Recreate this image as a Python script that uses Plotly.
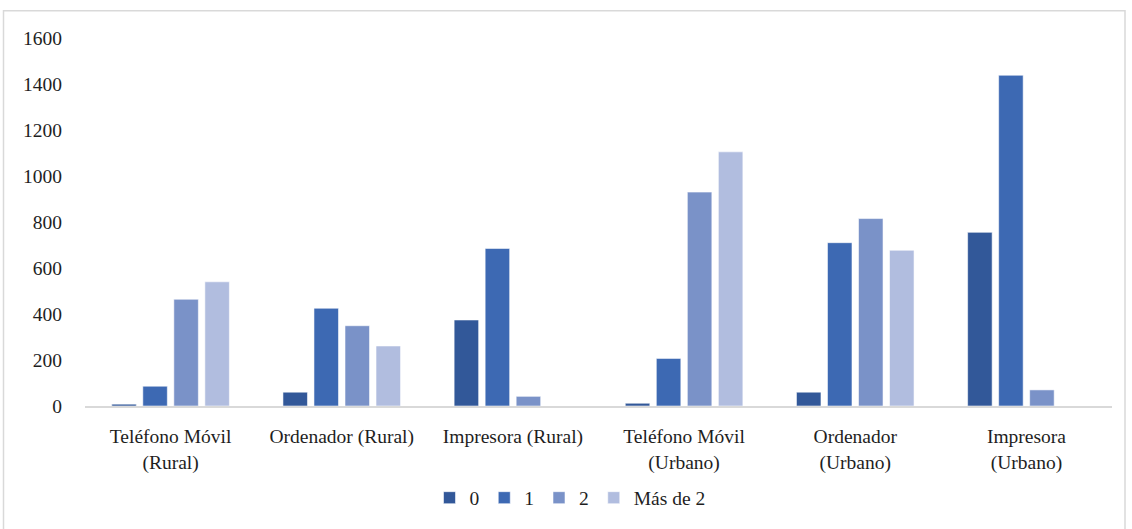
import plotly.graph_objects as go

categories = ["Teléfono Móvil<br>(Rural)", "Ordenador (Rural)", "Impresora (Rural)",
              "Teléfono Móvil<br>(Urbano)", "Ordenador<br>(Urbano)", "Impresora<br>(Urbano)"]
series_names = ["0", "1", "2", "Más de 2"]
vals_0 = [8, 60, 374, 12, 60, 755]
vals_1 = [86, 425, 685, 207, 710, 1438]
vals_2 = [464, 349, 42, 930, 815, 70]
vals_3 = [540, 261, 0, 1105, 677, 0]
colors = ["#325899", "#3d69b3", "#7a92c8", "#b1bddf"]
y_ticks = [0, 200, 400, 600, 800, 1000, 1200, 1400, 1600]

W, H = 1132, 529
L, R, T, B = 85, 20, 38, 119
pw, ph = W - L - R, H - T - B

def px_x(p):
    return (p - L) / pw

def px_y(p):
    return (H - B - p) / ph

font = dict(family="'Liberation Serif', 'Times New Roman', 'DejaVu Serif', serif", size=19.5, color="#1e1e1e")

fig = go.Figure()
for name, vals, c in zip(series_names, [vals_0, vals_1, vals_2, vals_3], colors):
    fig.add_trace(go.Bar(x=categories, y=vals, name=name,
                         marker=dict(color=c, line=dict(color="rgba(255,255,255,0.55)", width=1))))

fig.update_layout(
    width=W, height=H,
    margin=dict(l=L, r=R, t=T, b=B),
    paper_bgcolor="white", plot_bgcolor="white",
    barmode="group", bargap=0.275, bargroupgap=0.21,
    font=font,
    showlegend=True,
    legend=dict(orientation="h", x=px_x(570), xanchor="center", y=px_y(503), yanchor="middle",
                font=font, itemwidth=30, tracegroupgap=0, bgcolor="rgba(0,0,0,0)"),
    xaxis=dict(showline=True, linecolor="#d9d9d9", linewidth=2, showgrid=False, ticks="",
               tickfont=font, ticklabelstandoff=12, fixedrange=True),
    yaxis=dict(range=[0, 1600], tickvals=y_ticks, showgrid=False, zeroline=False, showline=False,
               ticks="", tickfont=font, ticklabelstandoff=22, fixedrange=True),
    shapes=[dict(type="rect", xref="paper", yref="paper",
                 x0=px_x(3.5), x1=px_x(1125), y0=px_y(540), y1=px_y(10.5),
                 line=dict(color="#d9d9d9", width=1.5), fillcolor="rgba(0,0,0,0)", layer="below")],
)

fig.write_html("out.html")
